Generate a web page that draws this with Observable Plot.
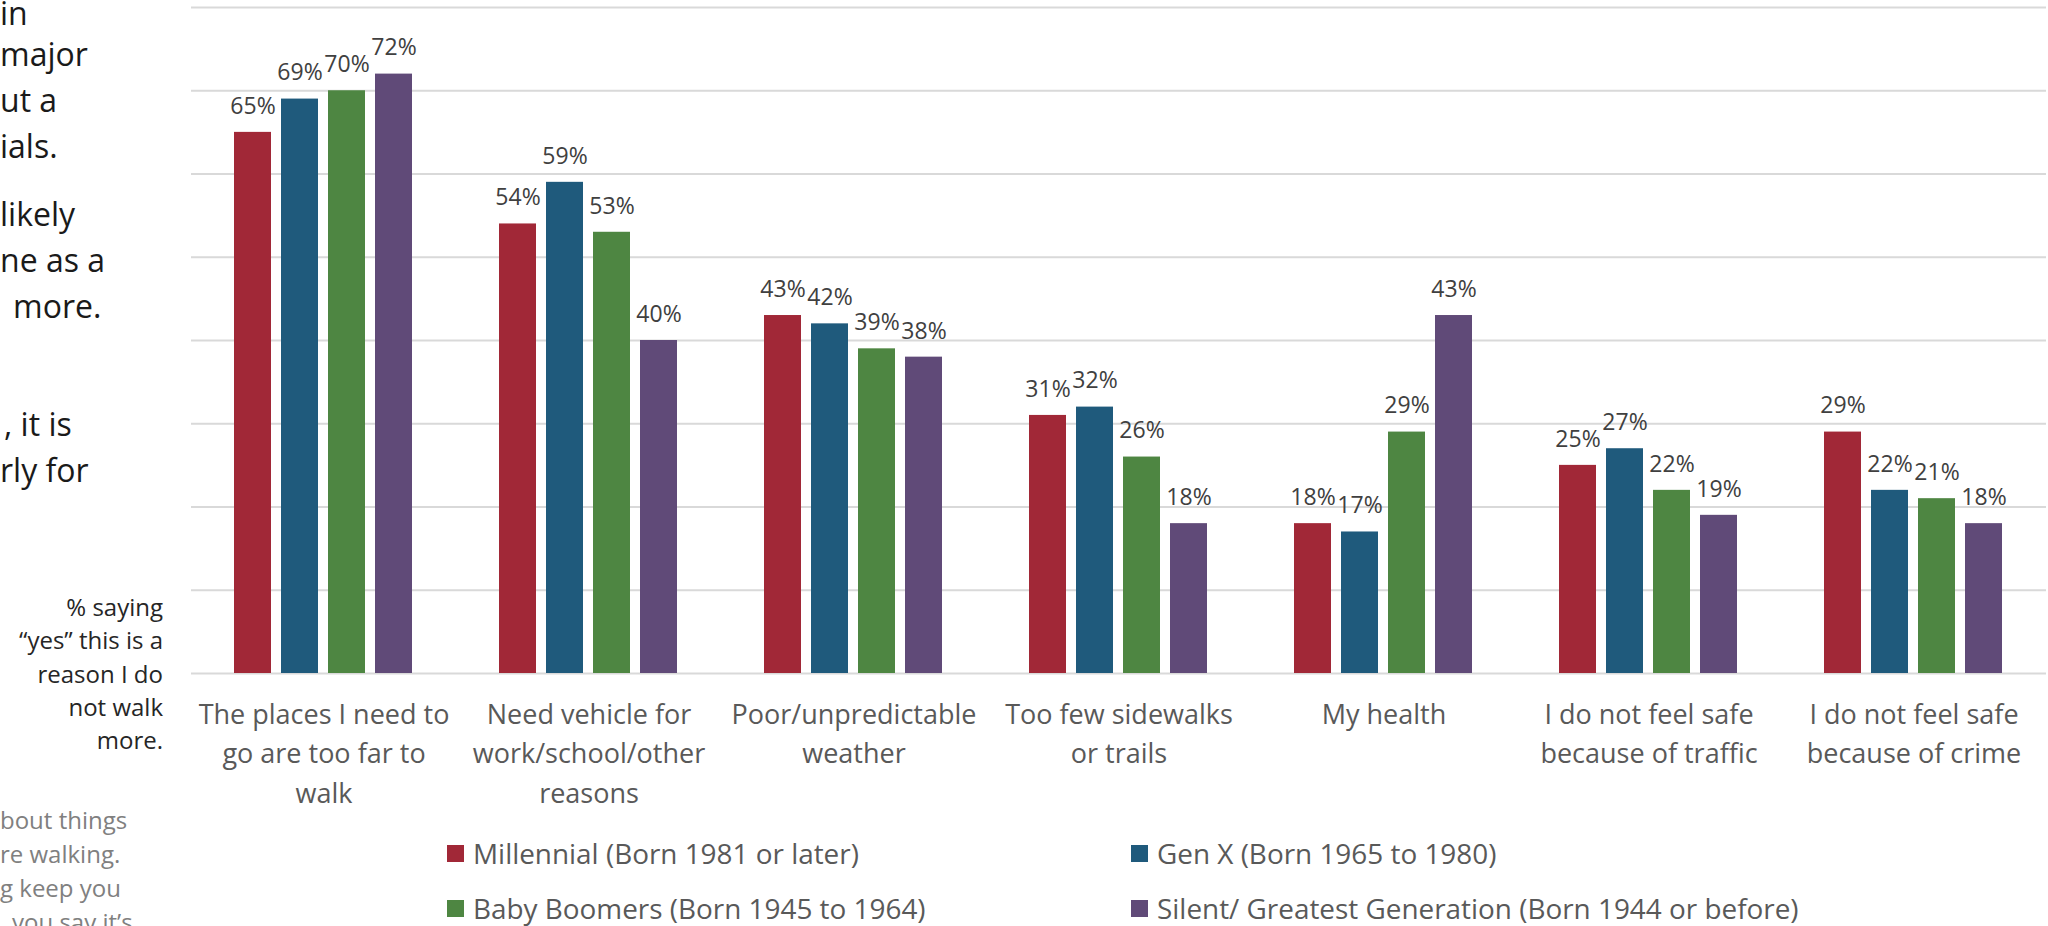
<!DOCTYPE html>
<html>
<head>
<meta charset="utf-8">
<script src="https://cdn.jsdelivr.net/npm/d3@7"></script>
<script src="https://cdn.jsdelivr.net/npm/@observablehq/plot@0.6"></script>
<style>
  html, body { margin: 0; padding: 0; background: #fff; }
  body { width: 2048px; height: 926px; overflow: hidden; position: relative; font-family: 'Open Sans', sans-serif; }
  #chart { position: absolute; left: 0; top: 0; }
  .line { position: absolute; white-space: nowrap; }
  .para { font-size: 32px; line-height: 46px; color: #1a1a1a; }
  .note { font-size: 24px; line-height: 33px; color: #262626; text-align: right; width: 163px; left: 0; }
  .gray { font-size: 24px; line-height: 34px; color: #808080; }
  .leg { position: absolute; display: flex; align-items: center; height: 40px; font-size: 27.9px; color: #595959; white-space: nowrap; }
  .sw { width: 17px; height: 17px; margin-right: 9px; }
</style>
</head>
<body>
<div id="chart"></div>
<div id="side"></div>
<div id="legend"></div>
<script>
// ---- data ----
const categories = [
  "The places I need to go are too far to walk",
  "Need vehicle for work/school/other reasons",
  "Poor/unpredictable weather",
  "Too few sidewalks or trails",
  "My health",
  "I do not feel safe because of traffic",
  "I do not feel safe because of crime"
];
const categoryLabels = [
  "The places I need to\ngo are too far to\nwalk",
  "Need vehicle for\nwork/school/other\nreasons",
  "Poor/unpredictable\nweather",
  "Too few sidewalks\nor trails",
  "My health",
  "I do not feel safe\nbecause of traffic",
  "I do not feel safe\nbecause of crime"
];
const generations = [
  "Millennial (Born 1981 or later)",
  "Gen X (Born 1965 to 1980)",
  "Baby Boomers (Born 1945 to 1964)",
  "Silent/ Greatest Generation (Born 1944 or before)"
];
const millennial = [65, 54, 43, 31, 18, 25, 29];
const genX       = [69, 59, 42, 32, 17, 27, 22];
const boomers    = [70, 53, 39, 26, 29, 22, 21];
const silent     = [72, 40, 38, 18, 43, 19, 18];
const colors = ["#A12837", "#1F5A7C", "#4E8642", "#604A78"];
const gridTicks = [0, 10, 20, 30, 40, 50, 60, 70, 80];

// side text fragments (cropped in the original)
const paraLines = [
  {t: "in", x: 0, y: -10},
  {t: "major", x: 0, y: 31},
  {t: "ut a", x: 0, y: 77},
  {t: "ials.", x: 0, y: 123},
  {t: "likely", x: 0, y: 191},
  {t: "ne as a", x: 0, y: 237},
  {t: "more.", x: 13, y: 283},
  {t: ", it is", x: 4, y: 401},
  {t: "rly for", x: 0, y: 447}
];
const noteLines = ["% saying", "\u201cyes\u201d this is a", "reason I do", "not walk", "more."];
const grayLines = [
  {t: "bout things", x: 0},
  {t: "re walking.", x: 0},
  {t: "g keep you", x: 0},
  {t: "you say it\u2019s", x: 12}
];

// ---- table ----
const series = [millennial, genX, boomers, silent];
const data = categories.flatMap((c, i) =>
  generations.map((g, j) => ({category: c, generation: g, value: series[j][i]}))
);
const labelOf = new Map(categories.map((c, i) => [c, categoryLabels[i]]));

const chart = Plot.plot({
  width: 2048,
  height: 830,
  marginLeft: 189,
  marginRight: 0,
  marginTop: 7,
  marginBottom: 157,
  style: {fontFamily: "'Open Sans', sans-serif", fontSize: "27px", color: "#595959", background: "transparent", overflow: "visible"},
  fx: {domain: categories, padding: 0, label: null},
  x: {domain: generations, paddingInner: 0.21, paddingOuter: 0.87, axis: null},
  y: {domain: [0, 80], axis: null},
  color: {domain: generations, range: colors},
  marks: [
    Plot.ruleY(gridTicks, {stroke: "#d9d9d9", strokeWidth: 2}),
    Plot.barY(data, {fx: "category", x: "generation", y: "value", fill: "generation"}),
    Plot.text(data, {fx: "category", x: "generation", y: "value", text: d => d.value + "%", dy: -26, fill: "#404040", fontSize: 23}),
    Plot.axisFx({anchor: "bottom", tickSize: 0, tickPadding: 23, label: null, tickFormat: d => labelOf.get(d), lineHeight: 1.45, fontSize: 27})
  ]
});
document.getElementById("chart").appendChild(chart);

// side texts
const side = document.getElementById("side");
for (const l of paraLines) {
  const d = document.createElement("div");
  d.className = "line para";
  d.style.left = l.x + "px"; d.style.top = l.y + "px";
  d.textContent = l.t;
  side.appendChild(d);
}
noteLines.forEach((t, i) => {
  const d = document.createElement("div");
  d.className = "line note";
  d.style.top = (590 + i * 33.3) + "px";
  d.textContent = t;
  side.appendChild(d);
});
grayLines.forEach((l, i) => {
  const d = document.createElement("div");
  d.className = "line gray";
  d.style.left = l.x + "px";
  d.style.top = (803 + i * 34) + "px";
  d.textContent = l.t;
  side.appendChild(d);
});

// legend
const legend = document.getElementById("legend");
const legPos = [[447, 833], [1131, 833], [447, 888], [1131, 888]];
generations.forEach((g, i) => {
  const d = document.createElement("div");
  d.className = "leg";
  d.style.left = legPos[i][0] + "px"; d.style.top = legPos[i][1] + "px";
  const s = document.createElement("span");
  s.className = "sw"; s.style.background = colors[i];
  const t = document.createElement("span");
  t.textContent = g;
  d.appendChild(s); d.appendChild(t);
  legend.appendChild(d);
});
</script>
</body>
</html>
